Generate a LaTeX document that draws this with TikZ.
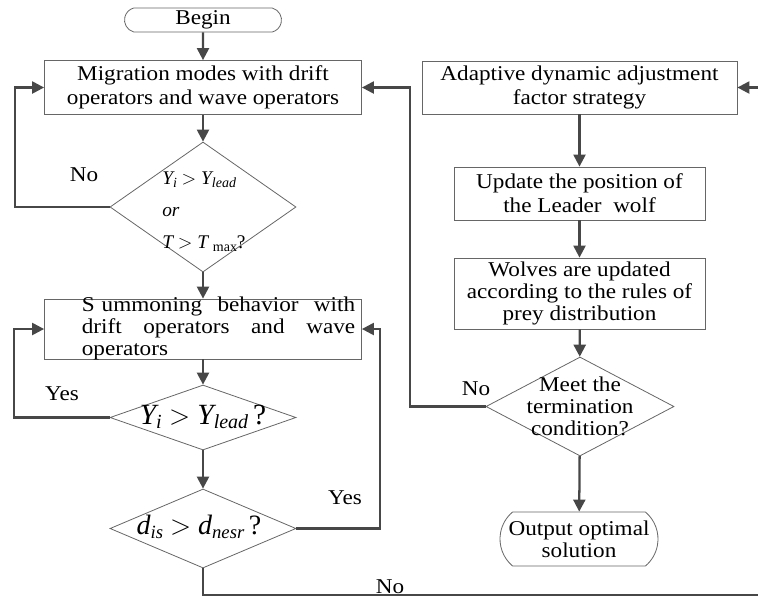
\documentclass[tikz,border=0pt]{standalone}
\usepackage{fontspec}
\setmainfont{Liberation Serif}[FakeStretch=1.1]
\newfontfamily\formfont{Liberation Serif}
\usepackage{tikz}
\usetikzlibrary{arrows.meta,calc,shapes,positioning}

\newcommand{\lowidx}[2]{\raisebox{-0.3ex}{\fontsize{#1}{#1}\selectfont #2}}

\tikzset{
  box/.style={draw=black!60,line width=0.6pt,rectangle,fill=white,inner sep=0pt,align=center},
  term/.style={box,rounded rectangle,rounded rectangle arc length=#1},
  dec/.style={draw=black!60,line width=0.6pt,diamond,inner sep=0pt},
  flow/.style={draw=black!72,line width=1.7pt,-{Triangle[length=9pt,width=9pt]}},
  lbl/.style={inner sep=0pt}
}

\begin{document}
\begin{tikzpicture}[x=0.75pt,y=-0.75pt,font=\fontsize{15.8}{18}\selectfont]
\useasboundingbox (0,0) rectangle (758,597);
%left column
\node[term=150,minimum width=117.75pt,minimum height=18pt] (BEGIN) at (203,20) {Begin};
\node[box,minimum width=237.75pt,minimum height=40.5pt] (MIGR) at (203,87.5) {Migration modes with drift\\operators and wave operators};
\node[dec,minimum width=139.5pt,minimum height=97.5pt] (DEC1) at (203,207) {};
\node[lbl,align=left,anchor=west,font=\formfont\fontsize{14.5}{24}\selectfont] (DEC1txt) at (162,212)
  {{\itshape Y}\lowidx{10.5}{\itshape i} $>$ {\itshape Y}\lowidx{10.5}{\itshape lead}\\{\itshape or}\\{\itshape T} $>$ {\itshape T}\ \lowidx{10.5}{max}?};
\node[box,minimum width=237.75pt,minimum height=45pt] (SUMM) at (203,329) {};
\node[lbl,text width=205pt,align=left,font=\fontsize{15.8}{16.5}\selectfont] (SUMMtxt) at (218.5,328)
  {S\ ummoning\hfill behavior\hfill with\\drift\hfill operators\hfill and\hfill wave\\operators};
\node[dec,minimum width=139.5pt,minimum height=48.75pt] (DEC2) at (203,417.5) {};
\node[lbl,font=\formfont\fontsize{22}{22}\selectfont] (DEC2txt) at (203,417)
  {{\itshape Y}\lowidx{15}{\itshape i} $>$ {\itshape Y}\lowidx{15}{\itshape lead}\,?};
\node[dec,minimum width=139.5pt,minimum height=59.25pt] (DEC3) at (203,528.5) {};
\node[lbl,font=\formfont\fontsize{21}{21}\selectfont] (DEC3txt) at (199,527)
  {{\itshape d}\lowidx{14}{\itshape is} $>$ {\itshape d}\lowidx{14}{\itshape nesr}\,?};
%right column
\node[box,minimum width=236.25pt,minimum height=39.75pt] (ADAPT) at (579.5,87.5) {Adaptive dynamic adjustment\\factor strategy};
\node[box,minimum width=188.25pt,minimum height=39.75pt] (UPD) at (579.5,193.5) {Update the position of\\the Leader~ wolf};
\node[box,minimum width=188.25pt,minimum height=53.25pt,font=\fontsize{15.8}{16.5}\selectfont] (WOLF) at (579.5,293.5) {Wolves are updated\\according to the rules of\\prey distribution};
\node[dec,minimum width=141pt,minimum height=74.25pt] (DEC4) at (580,406.5) {};
\node[lbl,align=center,font=\fontsize{15.8}{16.5}\selectfont] (DEC4txt) at (580,406) {Meet the\\termination\\condition?};
\node[term=100,minimum width=118.5pt,minimum height=40.5pt,font=\fontsize{15.8}{16.5}\selectfont] (OUT) at (579,539) {Output optimal\\solution};
%labels
\node[lbl] (NO1) at (84,175) {No};
\node[lbl] (YES1) at (62,394) {Yes};
\node[lbl] (YES2) at (345,498) {Yes};
\node[lbl] (NO2) at (476,389) {No};
\node[lbl] (NO3) at (390,587) {No};
%turning points
\coordinate (T1) at (15,87.5);
\coordinate (T2) at (14,329);
\coordinate (T3) at (380,329);
\coordinate (T4) at (410,87.5);
\coordinate (T5) at (203,595);
\coordinate (T6) at (775,595);
\coordinate (T7) at (775,87.5);
%straight arrows
\foreach \a/\b in {BEGIN/MIGR,MIGR/DEC1,DEC1/SUMM,SUMM/DEC2,DEC2/DEC3,ADAPT/UPD,UPD/WOLF,WOLF/DEC4,DEC4/OUT} {
  \draw[flow] (\a) -- (\b);
}
%loops
\draw[flow] (DEC1.west) -| (T1) -- (MIGR.west);
\draw[flow] (DEC2.west) -| (T2) -- (SUMM.west);
\draw[flow] (DEC3.east) -| (T3) -- (SUMM.east);
\draw[flow] (DEC4.west) -| (T4) -- (MIGR.east);
\draw[flow] (DEC3.south) -- (T5) -- (T6) -- (T7) -- (ADAPT.east);
\end{tikzpicture}
\end{document}
